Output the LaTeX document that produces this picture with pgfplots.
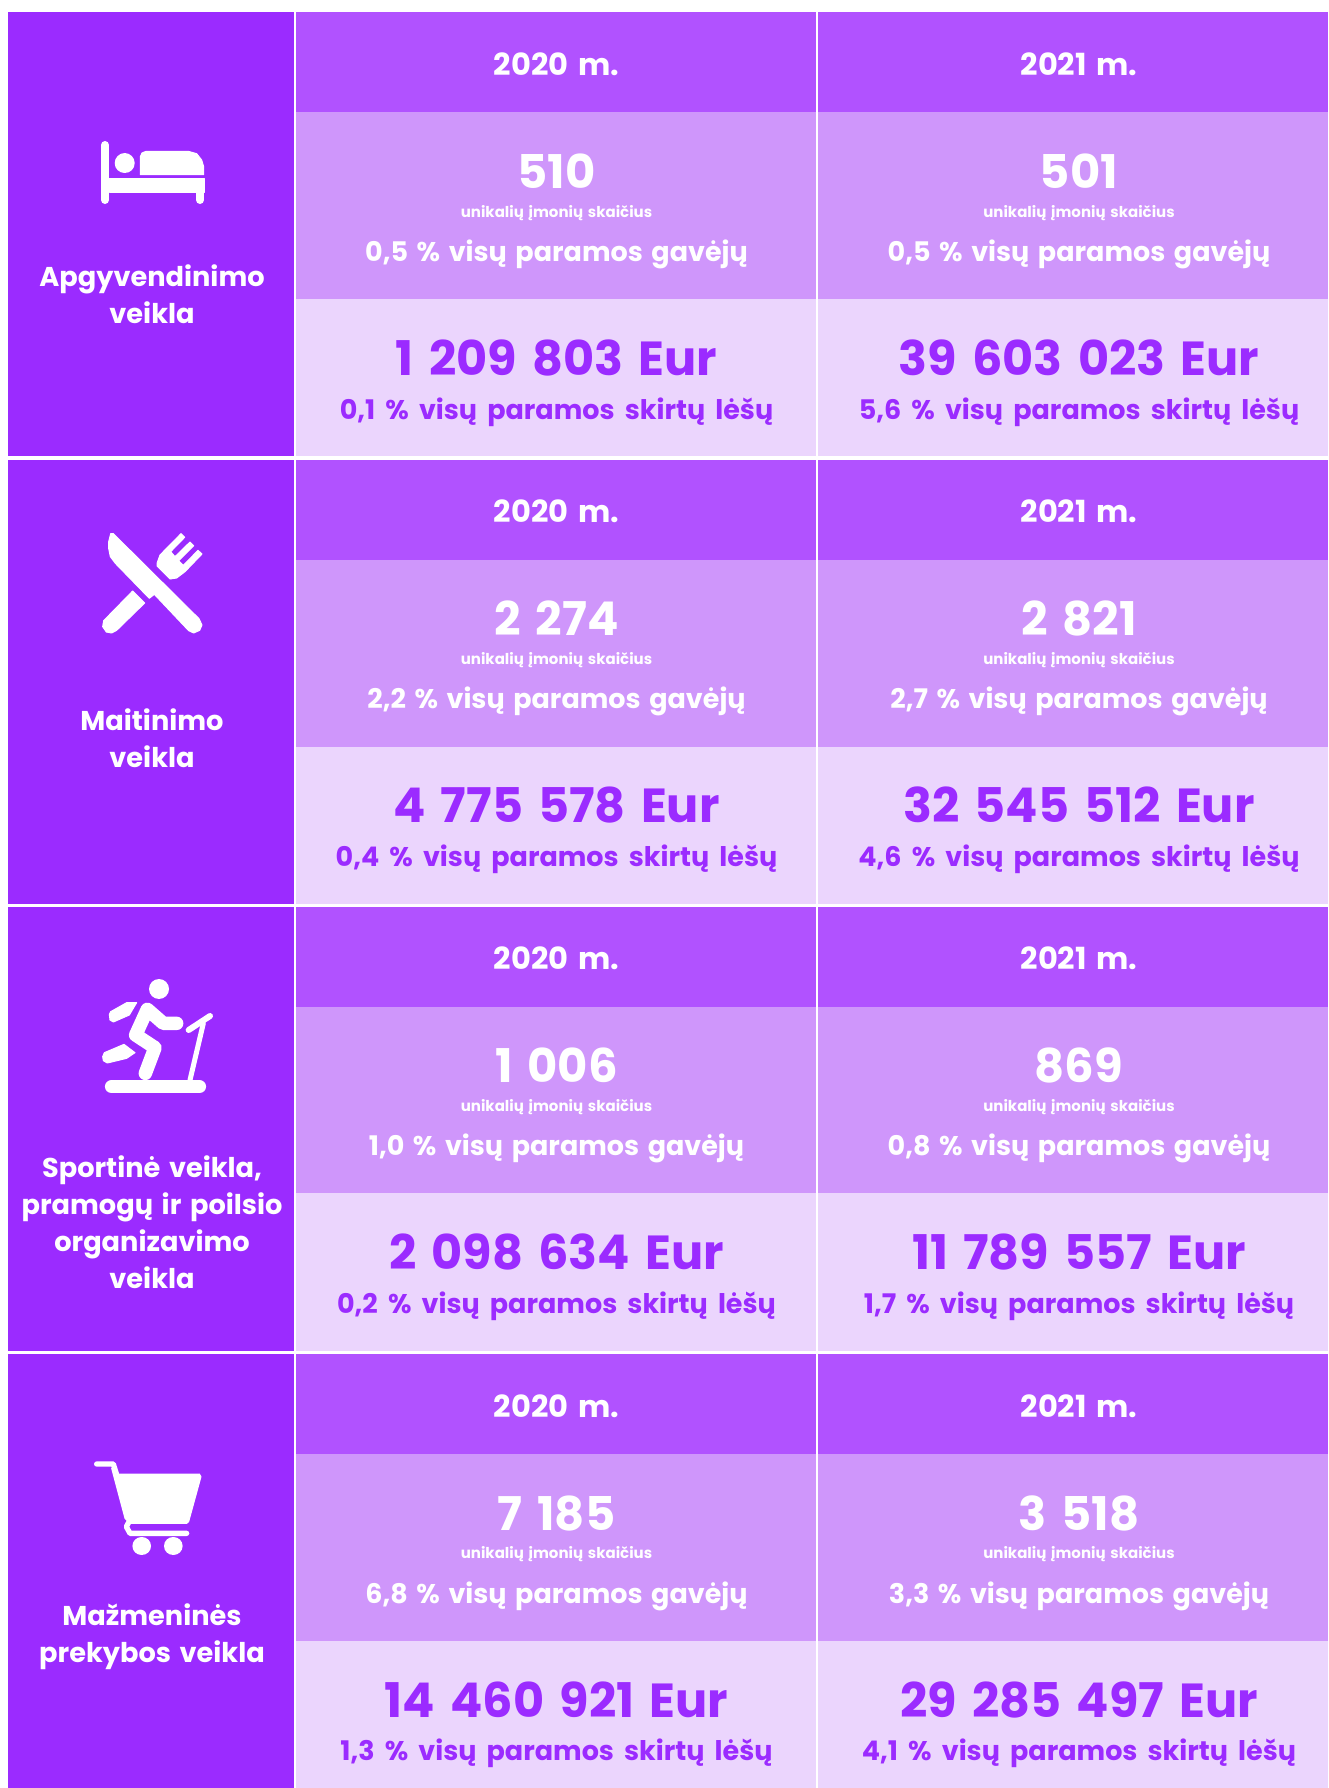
\documentclass[border=0pt]{standalone}
\usepackage{pgfplots}
\pgfplotsset{compat=1.18}
\usepackage{fontspec}
\setmainfont{Poppins}[WordSpace=1.5]

\definecolor{dark}{HTML}{9B2BFF}
\definecolor{head}{HTML}{B152FF}
\definecolor{mid}{HTML}{CF96FB}
\definecolor{light}{HTML}{EBD5FD}

% one filled rectangle
\newcommand{\band}[5]{\addplot[fill=#5,draw=none] coordinates {(#1,#3) (#2,#3) (#2,#4) (#1,#4)} --cycle;}
% text on a baseline: x, y, size, colour, text
\newcommand{\txt}[5]{\node[anchor=base,text=#4,inner sep=0pt,font=\bfseries\fontsize{#3}{#3}\selectfont] at (axis cs:#1,#2) {#5};}
% column of one row: x, row top, year, firms, share, euros, share
\newcommand{\cell}[7]{%
  \txt{#1}{#2+63}{30.5}{white}{#3 m.}
  \txt{#1}{#2+176}{46.5}{white}{#4}
  \txt{#1}{#2+204.5}{15}{white}{unikalių įmonių skaičius}
  \txt{#1}{#2+249}{27}{white}{#5 \% visų paramos gavėjų}
  \txt{#1}{#2+363}{47.8}{dark}{#6 Eur}
  \txt{#1}{#2+406.5}{27}{dark}{\spaceskip=.375em #7 \% visų paramos skirtų lėšų}
}
% icon points are read in crops at 3x
\pgfplotsset{
  /pgfplots/table/crop/.style 2 args={row sep=\\,x expr=\thisrow{x}/3+#1,y expr=\thisrow{y}/3+#2},
  solid icon/.style={fill=white,draw=white,line width=1pt,line join=round},
  stroke icon/.style={draw=white,fill=none,line join=round,line cap=round},
}

\begin{document}
\begin{tikzpicture}
\begin{axis}[
  hide axis,
  scale only axis,
  width=1328pt,
  height=1788pt,
  xmin=0,xmax=1328,
  ymin=0,ymax=1788,
  y dir=reverse,
]
\band{0}{1328}{0}{1788}{white}

% row 1
\band{8}{294}{12}{456}{dark}
\band{296}{1328}{12}{112}{head}
\band{296}{1328}{112}{299}{mid}
\band{296}{1328}{299}{456}{light}
% row 2
\band{8}{294}{460}{904}{dark}
\band{296}{1328}{460}{560}{head}
\band{296}{1328}{560}{746.5}{mid}
\band{296}{1328}{746.5}{904}{light}
% row 3
\band{8}{294}{907}{1351}{dark}
\band{296}{1328}{907}{1007}{head}
\band{296}{1328}{1007}{1193}{mid}
\band{296}{1328}{1193}{1351}{light}
% row 4
\band{8}{294}{1354}{1788}{dark}
\band{296}{1328}{1354}{1454}{head}
\band{296}{1328}{1454}{1640.5}{mid}
\band{296}{1328}{1640.5}{1788}{light}
% column rule
\addplot[white,line width=1.2pt] coordinates {(817,12) (817,1788)};

% bed
\addplot[stroke icon,line width=8pt] coordinates {(105,145) (105,200)};
\addplot[stroke icon,line width=8pt] coordinates {(200,190) (200,200)};
\addplot[solid icon] table[crop={80}{125}] {x y\\ 88 160\\ 372 160\\ 372 202\\ 88 202\\} --cycle;
\addplot[solid icon] table[crop={80}{125}] {x y\\ 181 149\\ 181 95\\ 186 84\\ 198 79\\ 325 79\\ 350 86\\ 365 105\\ 371 125\\ 371 149\\} --cycle;
\addplot[stroke icon,line width=20pt] coordinates {(124.7,163.3) (124.71,163.3)};

% knife and fork
\addplot[solid icon] table[crop={60}{500}] {x y\\ 152 101\\ 160 101\\ 417 356\\ 426 375\\ 419 391\\ 401 399\\ 386 392\\ 283 283\\ 268 295\\ 166 190\\ 151 170\\ 146 145\\ 146 125\\} --cycle;
\addplot[solid icon] table[crop={60}{500}] {x y\\ 218 273\\ 254 309\\ 170 391\\ 155 399\\ 139 396\\ 128 380\\ 131 362\\} --cycle;
\addplot[solid icon] table[crop={60}{500}] {x y\\ 291 190\\ 300 165\\ 363 101\\ 374 112\\ 332 155\\ 345 170\\ 390 126\\ 401 137\\ 356 182\\ 370 196\\ 414 151\\ 426 162\\ 375 215\\ 350 234\\ 330 237\\ 291 198\\} --cycle;

% runner on treadmill
\addplot[stroke icon,line width=20pt] coordinates {(159,989) (159.01,989)};
\addplot[stroke icon,line width=13.5pt] table[crop={70}{960}] {x y\\ 125 380\\ 388 380\\};
\addplot[stroke icon,line width=5pt] table[crop={70}{960}] {x y\\ 400 190\\ 360 360\\};
\addplot[stroke icon,line width=6pt] table[crop={70}{960}] {x y\\ 356 210\\ 420 168\\};
\addplot[stroke icon,line width=13.5pt] table[crop={70}{960}] {x y\\ 320 190\\ 280 190\\ 232 148\\ 197 225\\ 255 263\\ 226 340\\};
\addplot[solid icon] table[crop={70}{960}] {x y\\ 118 163\\ 122 155\\ 170 128\\ 200 128\\ 178 165\\ 130 186\\ 120 180\\} --cycle;
\addplot[solid icon] table[crop={70}{960}] {x y\\ 98 290\\ 103 278\\ 162 253\\ 195 278\\ 170 295\\ 112 309\\ 100 302\\} --cycle;

% cart
\addplot[stroke icon,line width=5.3pt] table[crop={70}{1440}] {x y\\ 80 72\\ 130 72\\ 145 120\\};
\addplot[stroke icon,line width=5.3pt] table[crop={70}{1440}] {x y\\ 180 240\\ 169 260\\ 180 280\\ 350 280\\};
\addplot[solid icon] table[crop={70}{1440}] {x y\\ 125 85\\ 145 102\\ 388 102\\ 393 110\\ 356 245\\ 350 250\\ 180 250\\ 165 235\\} --cycle;
\addplot[stroke icon,line width=18.6pt] coordinates {(141.7,1546) (141.71,1546)};
\addplot[stroke icon,line width=18.6pt] coordinates {(173.3,1546) (173.31,1546)};

% left labels
\txt{152}{286}{27.2}{white}{Apgyvendinimo}
\txt{152}{323}{27.2}{white}{veikla}
\txt{152}{730}{27.2}{white}{Maitinimo}
\txt{152}{767}{27.2}{white}{veikla}
\txt{152}{1177}{27.2}{white}{Sportinė veikla,}
\txt{152}{1214}{27.2}{white}{pramogų ir poilsio}
\txt{152}{1251}{27.2}{white}{organizavimo}
\txt{152}{1288}{27.2}{white}{veikla}
\txt{152}{1625}{27.2}{white}{Mažmeninės}
\txt{152}{1662}{27.2}{white}{prekybos veikla}

% table cells
\cell{556.5}{12.5}{2020}{510}{0,5}{1 209 803}{0,1}
\cell{1079}{12.5}{2021}{501}{0,5}{39 603 023}{5,6}
\cell{556.5}{459.5}{2020}{2 274}{2,2}{4 775 578}{0,4}
\cell{1079}{459.5}{2021}{2 821}{2,7}{32 545 512}{4,6}
\cell{556.5}{906.5}{2020}{1 006}{1,0}{2 098 634}{0,2}
\cell{1079}{906.5}{2021}{869}{0,8}{11 789 557}{1,7}
\cell{556.5}{1354}{2020}{7 185}{6,8}{14 460 921}{1,3}
\cell{1079}{1354}{2021}{3 518}{3,3}{29 285 497}{4,1}
\end{axis}
\end{tikzpicture}
\end{document}
